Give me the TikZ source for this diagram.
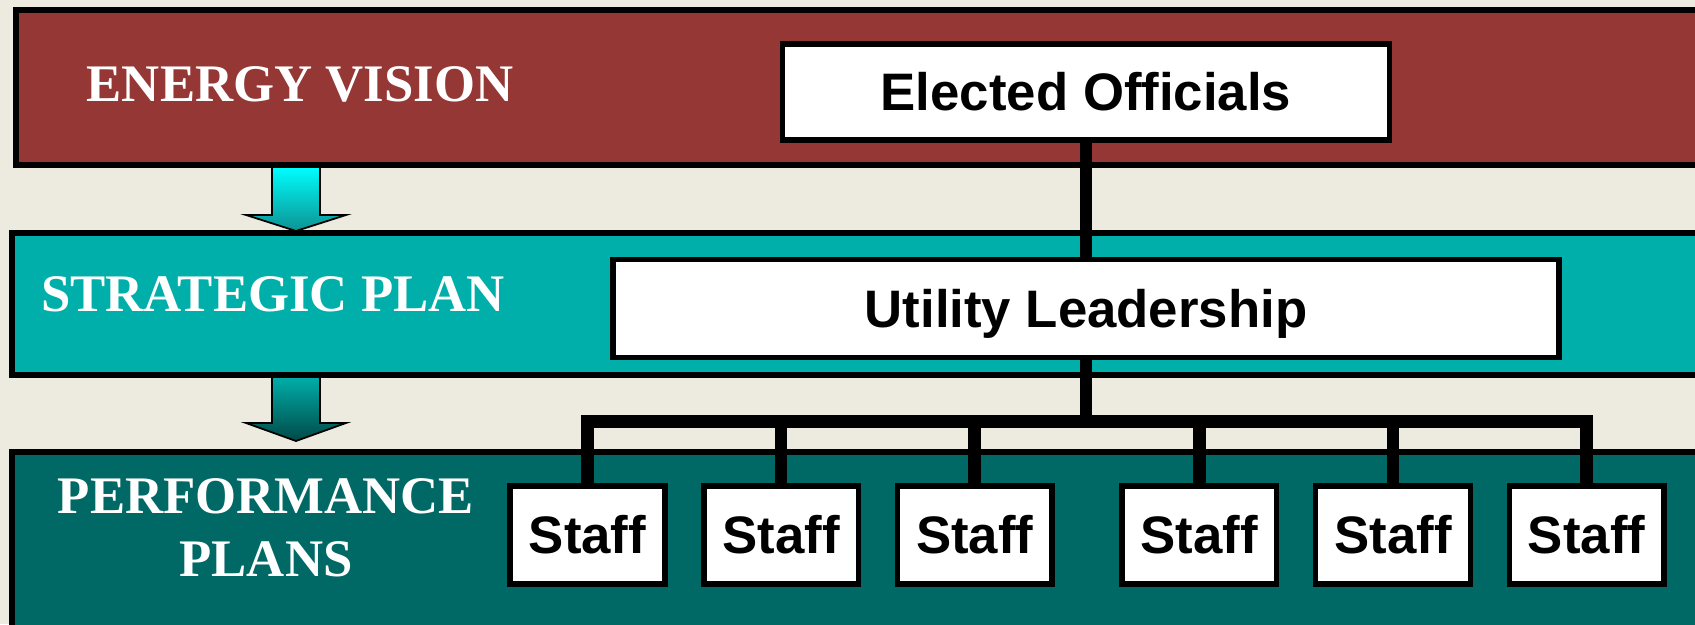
\documentclass[tikz,border=0pt]{standalone}
\usepackage{fontspec}
\setmainfont{Liberation Serif}
\setsansfont{Liberation Sans}
\usepackage{tikz}
\usetikzlibrary{positioning}

\definecolor{bgcream}{HTML}{EDEADF}
\definecolor{visionred}{HTML}{943735}
\definecolor{planteal}{HTML}{00AFAA}
\definecolor{perfteal}{HTML}{006966}

\tikzset{
	band/.style={draw=black, line width=0.06cm},
	bandlbl/.style={text=white, font=\fontsize{15}{18}\selectfont\bfseries, align=center},
	orgbox/.style={rectangle, draw=black, fill=white, line width=0.055cm, inner sep=0pt,
		font=\sffamily\fontsize{15}{18}\selectfont\bfseries, text height=10.7pt, text depth=0pt},
	staffbox/.style={orgbox, minimum width=1.545cm, minimum height=0.98cm},
	link/.style={line width=0.125cm},
	flowarr/.style={draw=black, line width=0.5pt},
}

\begin{document}
\begin{tikzpicture}[x=0.01cm, y=-0.01cm]
	\clip (0,0) rectangle (1695,624);
	\fill[bgcream] (0,0) rectangle (1695,624);

	% block arrows between the bands
	\shadedraw[flowarr, top color=cyan, bottom color=cyan!55!black!95!white]
		(272,166) -- (320,166) -- (320,215) -- (346,215) -- (296,231)
		-- (246,215) -- (272,215) -- cycle;
	\shadedraw[flowarr, top color=planteal, bottom color=perfteal!70!black]
		(272,376) -- (320,376) -- (320,423) -- (346,423) -- (296,441)
		-- (246,423) -- (272,423) -- cycle;

	% the three bands
	\draw[band, fill=visionred] (16,10) rectangle (1720,165);
	\draw[band, fill=planteal] (12,233) rectangle (1720,374.5);
	\draw[band, fill=perfteal] (12,452) rectangle (1720,640);

	\node[bandlbl] (vision) at (300,84) {ENERGY VISION};
	\node[bandlbl] (strategic) at (273,294) {STRATEGIC PLAN};
	\node[bandlbl] (perf) at (266,528) {PERFORMANCE\\PLANS};

	% org chart
	\node[orgbox, minimum width=6.07cm, minimum height=0.96cm] (elected) at (1086,92) {Elected Officials};
	\node[orgbox, minimum width=9.45cm, minimum height=0.98cm] (utility) at (1086,308.5) {Utility Leadership};

	\node[staffbox] (s1) at (587.5,535) {Staff};
	\node[staffbox, right=0.335cm of s1] (s2) {Staff};
	\node[staffbox, right=0.335cm of s2] (s3) {Staff};
	\node[staffbox, right=0.645cm of s3] (s4) {Staff};
	\node[staffbox, right=0.335cm of s4] (s5) {Staff};
	\node[staffbox, right=0.335cm of s5] (s6) {Staff};

	\coordinate (bus) at (1086,421.5);
	\draw[link] (elected) -- (utility);
	\draw[link] (utility) -- (bus);
	\draw[link] (s1.north) |- (bus) -| (s6.north);
	\foreach \s in {s2,s3,s4,s5}
		\draw[link] (\s.north) -- (\s.north |- bus);
\end{tikzpicture}
\end{document}
